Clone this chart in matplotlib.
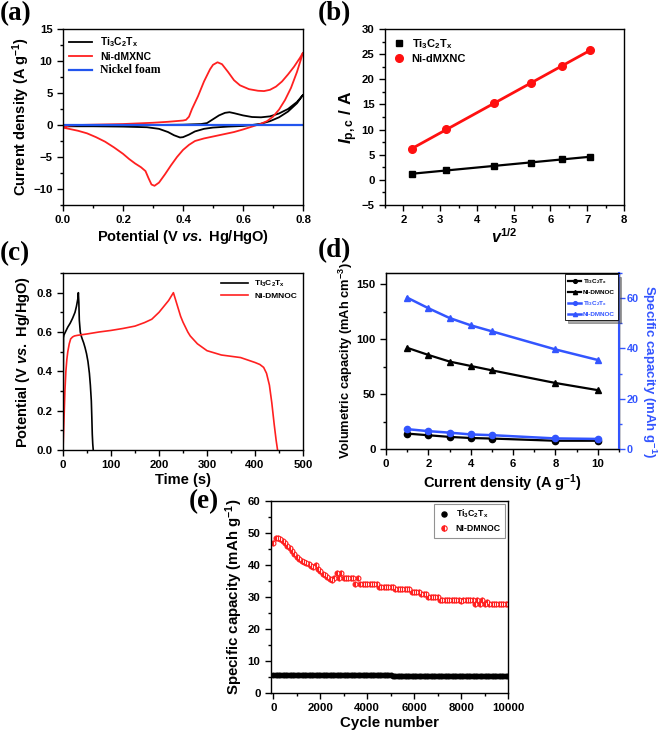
import numpy as np
import matplotlib
matplotlib.use("Agg")
import matplotlib.pyplot as plt
from matplotlib.ticker import MultipleLocator

plt.rcParams['font.family'] = ['Liberation Sans', 'DejaVu Sans']
plt.rcParams['font.weight'] = 'bold'
plt.rcParams['axes.labelweight'] = 'bold'
plt.rcParams['mathtext.fontset'] = 'custom'
plt.rcParams['mathtext.rm'] = 'Liberation Sans:bold'
plt.rcParams['mathtext.bf'] = 'Liberation Sans:bold'
plt.rcParams['mathtext.it'] = 'Liberation Sans:italic:bold'

# ---------------- data (a) CV ----------------
cv_red_up_x = [0.00, 0.02, 0.05, 0.10, 0.20, 0.30, 0.35, 0.40, 0.41, 0.42, 0.43, 0.45, 0.47, 0.49, 0.50, 0.515,
               0.53, 0.55, 0.57, 0.59, 0.62, 0.65, 0.67, 0.69, 0.71, 0.73, 0.75, 0.77, 0.79, 0.80]
cv_red_up_y = [-0.4, -0.1, 0.0, 0.05, 0.15, 0.35, 0.5, 0.7, 0.8, 1.3, 2.5, 4.5, 6.8, 8.7, 9.4, 9.8,
               9.5, 8.3, 7.0, 6.2, 5.6, 5.35, 5.3, 5.5, 6.0, 6.8, 7.9, 9.1, 10.5, 11.3]
cv_red_dn_x = [0.80, 0.78, 0.76, 0.74, 0.72, 0.70, 0.68, 0.66, 0.64, 0.62, 0.60, 0.57, 0.54, 0.50, 0.47, 0.44,
               0.42, 0.40, 0.38, 0.36, 0.34, 0.32, 0.305, 0.295, 0.285, 0.275, 0.26, 0.24, 0.22, 0.20, 0.17,
               0.14, 0.11, 0.08, 0.05, 0.02, 0.00]
cv_red_dn_y = [11.3, 8.3, 5.8, 3.9, 2.4, 1.3, 0.6, 0.2, -0.1, -0.4, -0.7, -1.1, -1.4, -1.8, -2.1, -2.5,
               -3.1, -3.9, -5.0, -6.3, -7.7, -9.0, -9.5, -9.3, -8.3, -7.2, -6.6, -6.0, -5.3, -4.5, -3.5,
               -2.6, -1.9, -1.3, -0.9, -0.6, -0.4]
cv_blk_up_x = [0.00, 0.10, 0.20, 0.30, 0.40, 0.46, 0.48, 0.50, 0.52, 0.54, 0.555, 0.57, 0.60, 0.63, 0.66,
               0.69, 0.72, 0.75, 0.78, 0.80]
cv_blk_up_y = [-0.2, -0.1, -0.05, 0.0, 0.05, 0.15, 0.3, 0.9, 1.5, 1.9, 2.0, 1.85, 1.5, 1.25, 1.2,
               1.35, 1.8, 2.5, 3.6, 4.7]
cv_blk_dn_x = [0.80, 0.78, 0.75, 0.72, 0.69, 0.66, 0.63, 0.60, 0.55, 0.50, 0.47, 0.44, 0.42, 0.40, 0.39,
               0.37, 0.35, 0.32, 0.28, 0.20, 0.10, 0.00]
cv_blk_dn_y = [4.7, 3.4, 2.1, 1.2, 0.6, 0.2, 0.0, -0.15, -0.25, -0.4, -0.6, -1.0, -1.5, -1.9, -1.95,
               -1.6, -1.1, -0.6, -0.35, -0.25, -0.2, -0.2]
cv_ni_x = [0.0, 0.8]
cv_ni_y = [0.0, 0.0]

# ---------------- data (b) ----------------
sqrt_v = [2.236, 3.162, 4.472, 5.477, 6.325, 7.071]
ipc_ti = [1.2, 1.9, 2.8, 3.4, 4.1, 4.6]
ipc_ni = [6.2, 10.1, 15.2, 19.2, 22.7, 25.8]

# ---------------- data (c) GCD ----------------
gcd_ti_t = [0, 0.5, 1, 2, 5, 10, 15, 20, 25, 28, 31, 32, 33, 34, 36, 38, 40, 43, 46, 49, 52, 55, 57, 59, 60, 61, 62, 63]
gcd_ti_v = [0, 0.3, 0.57, 0.585, 0.6, 0.625, 0.645, 0.67, 0.7, 0.73, 0.77, 0.8, 0.75, 0.66, 0.6, 0.58, 0.565,
            0.545, 0.52, 0.49, 0.45, 0.39, 0.33, 0.25, 0.17, 0.08, 0.03, 0]
gcd_ni_t = [0, 2, 4, 6, 8, 10, 13, 16, 20, 24, 30, 50, 75, 100, 125, 150, 170, 185, 200, 210, 220, 230,
            235, 240, 245, 250, 255, 260, 265, 280, 300, 330, 370, 400, 410, 418, 424, 430, 435, 440, 444, 447]
gcd_ni_v = [0, 0.15, 0.3, 0.4, 0.46, 0.5, 0.54, 0.565, 0.575, 0.58, 0.583, 0.59, 0.6, 0.608, 0.618, 0.63,
            0.648, 0.665, 0.7, 0.73, 0.76, 0.8, 0.76, 0.72, 0.68, 0.65, 0.625, 0.6, 0.58, 0.54, 0.505, 0.483,
            0.47, 0.445, 0.435, 0.42, 0.39, 0.33, 0.24, 0.13, 0.05, 0]

# ---------------- data (d) rate ----------------
cur_dens = [1, 2, 3, 4, 5, 8, 10]
vol_ti = [14, 12.5, 11, 10, 9.5, 7.5, 7.5]
vol_ni = [92, 85.5, 79.5, 75.5, 71.5, 60, 53.5]
spec_ti = [7.9, 7.1, 6.5, 5.8, 5.5, 4.2, 4.0]
spec_ni = [60.2, 56, 52.1, 49.2, 46.8, 39.6, 35.4]

# ---------------- data (e) cycling ----------------
cycles = list(range(0, 10001, 100))
cyc_ni = [47.0, 48.3, 48.3, 48.0, 47.5, 46.8, 46.0, 45.3, 44.5, 43.5,
          42.6, 42.0, 41.2, 41.0, 40.6, 40.2, 39.8, 39.5, 40.0, 38.8,
          38.0, 37.3, 36.8, 36.2, 35.6, 35.2, 35.8, 37.5, 35.8, 37.5,
          35.8, 35.8, 35.8, 35.8, 35.8, 34.0, 35.8, 34.0, 34.0, 34.0,
          34.0, 34.0, 34.0, 34.0, 34.0, 33.2, 33.2, 33.2, 33.2, 33.2,
          33.2, 33.2, 32.4, 32.4, 32.4, 32.4, 32.4, 32.4, 32.4, 31.6,
          31.6, 31.6, 31.6, 30.8, 30.8, 30.8, 30.0, 30.0, 30.0, 30.0,
          30.0, 29.2, 29.2, 29.2, 29.2, 29.2, 29.2, 29.2, 29.2, 29.2,
          28.6, 29.2, 29.2, 29.2, 29.2, 29.2, 27.8, 29.2, 27.8, 29.2,
          27.8, 28.4, 27.8, 27.8, 27.8, 27.8, 27.8, 27.8, 27.8, 27.8, 27.8]
cyc_ti = [5.6] * 51 + [5.3] * 50

TI = r'Ti$_3$C$_2$T$_\mathrm{x}$'
VS = r'Potential (V $\mathit{vs.}$ Hg/HgO)'

fig = plt.figure(figsize=(6.61, 7.33), dpi=100)
W, H = 661.0, 733.0


def add_ax(l, r, t, b):
    return fig.add_axes([l / W, 1 - b / H, (r - l) / W, (b - t) / H])


def style(ax, xmaj, xmin, ymaj, ymin, fs=8.2):
    ax.xaxis.set_major_locator(MultipleLocator(xmaj))
    ax.xaxis.set_minor_locator(MultipleLocator(xmin))
    ax.yaxis.set_major_locator(MultipleLocator(ymaj))
    ax.yaxis.set_minor_locator(MultipleLocator(ymin))
    ax.tick_params(which='both', direction='out', top=False, right=False, width=1, labelsize=fs)
    ax.tick_params(which='major', length=4)
    ax.tick_params(which='minor', length=2)
    for s in ax.spines.values():
        s.set_linewidth(1.0)
    for lab in ax.get_xticklabels() + ax.get_yticklabels():
        lab.set_fontweight('bold')


LBL = 10.5
PAN = dict(fontsize=19.5, fontweight='bold', family='Liberation Serif')

# (a)
ax = add_ax(63, 303, 29, 205)
ax.plot(cv_blk_up_x + cv_blk_dn_x, cv_blk_up_y + cv_blk_dn_y, color='black', lw=1.3, label=TI)
ax.plot(cv_red_up_x + cv_red_dn_x, cv_red_up_y + cv_red_dn_y, color='#ff2020', lw=1.3, label='Ni-dMXNC')
ax.plot(cv_ni_x, cv_ni_y, color='#2255ee', lw=1.6, label='Nickel foam')
ax.set_xlim(0, 0.8)
ax.set_ylim(-12.5, 15)
style(ax, 0.2, 0.1, 5, 2.5)
ax.xaxis.set_major_formatter(matplotlib.ticker.FormatStrFormatter('%.1f'))
ax.set_xlabel(VS, fontsize=LBL, labelpad=2)
ax.set_ylabel(r'Current density (A g$^{-1}$)', fontsize=LBL, labelpad=1)
leg = ax.legend(loc='upper left', frameon=False, fontsize=7.5, handlelength=2.2, borderaxespad=0.2,
                labelspacing=0.25)
leg.get_texts()[2].set_family('Liberation Serif')
leg.get_texts()[2].set_fontsize(8.5)
fig.text(0 / W, 1 - 1 / H, '(a)', va='top', ha='left', **PAN)

# (b)
ax = add_ax(385, 624, 29, 205)
sv = np.array(sqrt_v)
for y, c, m, ms, lw, lab in [(ipc_ti, 'black', 's', 4.5, 1.6, TI), (ipc_ni, '#ff1010', 'o', 5.5, 2.0, 'Ni-dMXNC')]:
    p = np.polyfit(sv, y, 1)
    ax.plot(sv, np.polyval(p, sv), color=c, lw=lw)
    ax.plot(sv, y, ls='none', marker=m, color=c, ms=ms, label=lab)
ax.set_xlim(1.5, 8)
ax.set_ylim(-5, 30)
style(ax, 1, 0.5, 5, 2.5)
ax.set_xlabel(r'$v^{1/2}$', fontsize=LBL + 1, labelpad=1)
ax.set_ylabel(r'$I_{\mathrm{p,c}}$ / A', fontsize=LBL + 2, labelpad=1)
ax.legend(loc='upper left', frameon=False, fontsize=8, handlelength=1.2, borderaxespad=0.3,
          labelspacing=0.3, handletextpad=0.5)
fig.text(318 / W, 1 - 1 / H, '(b)', va='top', ha='left', **PAN)

# (c)
ax = add_ax(63, 303, 273, 450)
ax.plot(gcd_ti_t, gcd_ti_v, color='black', lw=1.2, label=TI)
ax.plot(gcd_ni_t, gcd_ni_v, color='#ff2020', lw=1.2, label='Ni-DMNOC')
ax.set_xlim(0, 500)
ax.set_ylim(0, 0.9)
style(ax, 100, 50, 0.2, 0.1)
ax.yaxis.set_major_formatter(matplotlib.ticker.FormatStrFormatter('%.1f'))
ax.set_xlabel('Time (s)', fontsize=LBL, labelpad=2)
ax.set_ylabel(VS, fontsize=LBL, labelpad=3)
ax.legend(loc='upper right', frameon=False, fontsize=6, handlelength=3.2, borderaxespad=0.3,
          labelspacing=0.4)
fig.text(0 / W, 1 - 241 / H, '(c)', va='top', ha='left', **PAN)

# (d)
BLUE = '#3355ff'
ax = add_ax(386, 619, 273, 449)
axr = ax.twinx()
ax.plot(cur_dens, vol_ti, color='black', marker='o', ms=4.5, lw=1.6, label=TI)
ax.plot(cur_dens, vol_ni, color='black', marker='^', ms=5, lw=1.6, label='NI-DMNOC')
axr.plot(cur_dens, spec_ti, color=BLUE, marker='o', ms=4.5, lw=1.8, label=TI)
axr.plot(cur_dens, spec_ni, color=BLUE, marker='^', ms=5, lw=1.8, label='NI-DMNOC')
ax.set_xlim(0, 11)
ax.set_ylim(0, 160)
axr.set_ylim(0, 70)
style(ax, 2, 1, 50, 25)
axr.yaxis.set_major_locator(MultipleLocator(20))
axr.yaxis.set_minor_locator(MultipleLocator(10))
axr.tick_params(which='both', direction='out', right=True, left=False, colors=BLUE, width=1,
                labelsize=7.8, pad=1.5)
axr.tick_params(which='major', length=4)
axr.tick_params(which='minor', length=2)
for lab in axr.get_yticklabels():
    lab.set_fontweight('bold')
axr.spines['right'].set_color(BLUE)
axr.spines['right'].set_linewidth(1.5)
ax.set_xlabel(r'Current density (A g$^{-1}$)', fontsize=LBL, labelpad=2)
ax.set_ylabel(r'Volumetric capacity (mAh cm$^{-3}$)', fontsize=9.3, labelpad=1)
fig.text(649 / W, 1 - 372 / H, r'Specific capacity (mAh g$^{-1}$)', fontsize=9.5, fontweight='bold',
         color=BLUE, rotation=270, ha='center', va='center')
h1, l1 = ax.get_legend_handles_labels()
h2, l2 = axr.get_legend_handles_labels()
leg = axr.legend(h1 + h2, l1 + l2, loc='upper right', fontsize=4.6, frameon=True, fancybox=False,
                 shadow=True, edgecolor='black', handlelength=2.0, borderaxespad=0.2, labelspacing=0.55,
                 handletextpad=0.2, borderpad=0.5, markerscale=0.6)
leg.get_frame().set_linewidth(0.6)
for t in leg.get_texts()[2:]:
    t.set_color(BLUE)
fig.text(318 / W, 1 - 238 / H, '(d)', va='top', ha='left', **PAN)

# (e)
ax = add_ax(271, 508, 501, 693)
ax.plot(cycles, cyc_ti, ls='none', marker='o', ms=3.3, color='black', label=TI)
ax.plot(cycles, cyc_ni, ls='none', marker='o', ms=3.5, color='#ff2020', mfc='#ff2020', mfcalt='white',
        fillstyle='left', mew=0.8, label='NI-DMNOC')
ax.set_xlim(-100, 10000)
ax.set_ylim(0, 60)
style(ax, 2000, 1000, 10, 5)
ax.set_xlabel('Cycle number', fontsize=10.8, labelpad=2)
ax.set_ylabel(r'Specific capacity (mAh g$^{-1}$)', fontsize=10.8, labelpad=2)
leg = ax.legend(loc='upper right', fontsize=6.3, frameon=True, fancybox=False, edgecolor='#777777',
                handlelength=1.2, borderaxespad=0.3, labelspacing=0.45, borderpad=0.5, markerscale=1.1)
leg.get_frame().set_linewidth(0.8)
fig.text(189 / W, 1 - 489 / H, '(e)', va='top', ha='left', **PAN)

fig.savefig('out.png', dpi=100)
